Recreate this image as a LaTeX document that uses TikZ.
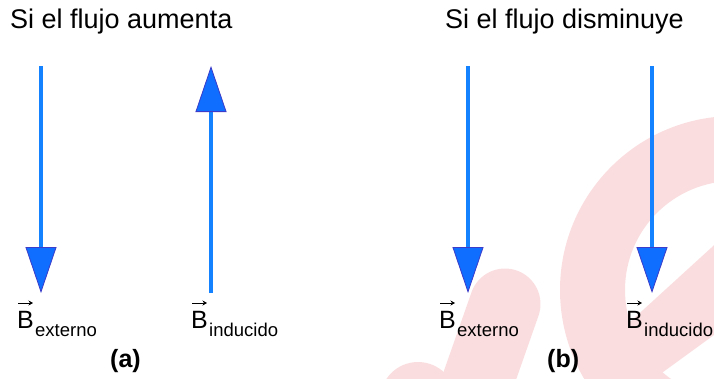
\documentclass[tikz,border=0pt]{standalone}
\usepackage{fontspec}
\setmainfont{Liberation Sans}
\usetikzlibrary{arrows.meta,calc}
\definecolor{shaft}{RGB}{20,130,255}
\definecolor{headfill}{RGB}{15,110,255}
\definecolor{headedge}{RGB}{60,60,200}
\definecolor{wmpink}{RGB}{250,221,223}
\begin{document}
\begin{tikzpicture}[x=1pt,y=-1pt,
  vecarrow/.style={draw=shaft, line width=4.5pt,
    -{Triangle[width=31pt,length=46pt,line width=0.8pt,color=headedge,fill=headfill]}},
  titletext/.style={anchor=base west, inner sep=0pt, font=\fontsize{27}{32}\selectfont},
  bsym/.style={anchor=base west, inner sep=0pt, font=\fontsize{25}{30}\selectfont},
  bsub/.style={anchor=base west, inner sep=0pt, font=\fontsize{18.5}{22}\selectfont},
  captext/.style={anchor=base west, inner sep=0pt, font=\fontsize{25}{30}\selectfont\bfseries},
  vecsym/.style={draw=black, line width=1pt, -{Stealth[length=4.5pt,width=5pt]}},
  wm/.style={fill=wmpink}]
\useasboundingbox (0,0) rectangle (714,378);

% watermark
\begin{scope}
  \clip (0,0) rectangle (714,378);
  \fill[wm, even odd rule] (734,290) circle (174) (734,290) circle (109);
  \begin{scope}
    \clip (734,290) circle (174);
    \fill[wm] (540,404) -- (780,185) -- (780,287) -- (560,447) -- cycle;
  \end{scope}
  \draw[draw=wmpink, line width=71pt, line cap=round] (505,304) -- (465,418);
  \fill[wm] (418,400) circle (38);
\end{scope}

% titles
\node[titletext] (t1) at (10,28) {Si el flujo aumenta};
\node[titletext] (t2) at (445,28) {Si el flujo disminuye};

% vectors
\coordinate (a1s) at (41,66);  \coordinate (a1e) at (41,293);
\coordinate (a2s) at (211,293); \coordinate (a2e) at (211,66);
\coordinate (b1s) at (468,66); \coordinate (b1e) at (468,293);
\coordinate (b2s) at (652,66); \coordinate (b2e) at (652,293);
\draw[vecarrow] (a1s) -- (a1e);
\draw[vecarrow] (a2s) -- (a2e);
\draw[vecarrow] (b1s) -- (b1e);
\draw[vecarrow] (b2s) -- (b2e);

% labels
\node[bsym] (bA1) at (17,328) {B};
\node[bsub] (sA1) at (35,336) {externo};
\node[bsym] (bA2) at (191,328) {B};
\node[bsub] (sA2) at (209,336) {inducido};
\node[bsym] (bB1) at (439,328) {B};
\node[bsub] (sB1) at (457,336) {externo};
\node[bsym] (bB2) at (626,328) {B};
\node[bsub] (sB2) at (644,336) {inducido};
\foreach \n in {bA1,bA2,bB1,bB2}{
  \draw[vecsym] ($(\n.base west)+(1,-25)$) -- ($(\n.base west)+(16,-25)$);
}

% captions
\node[captext] (ca) at (110,367) {(a)};
\node[captext] (cb) at (547,367) {(b)};
\end{tikzpicture}
\end{document}
